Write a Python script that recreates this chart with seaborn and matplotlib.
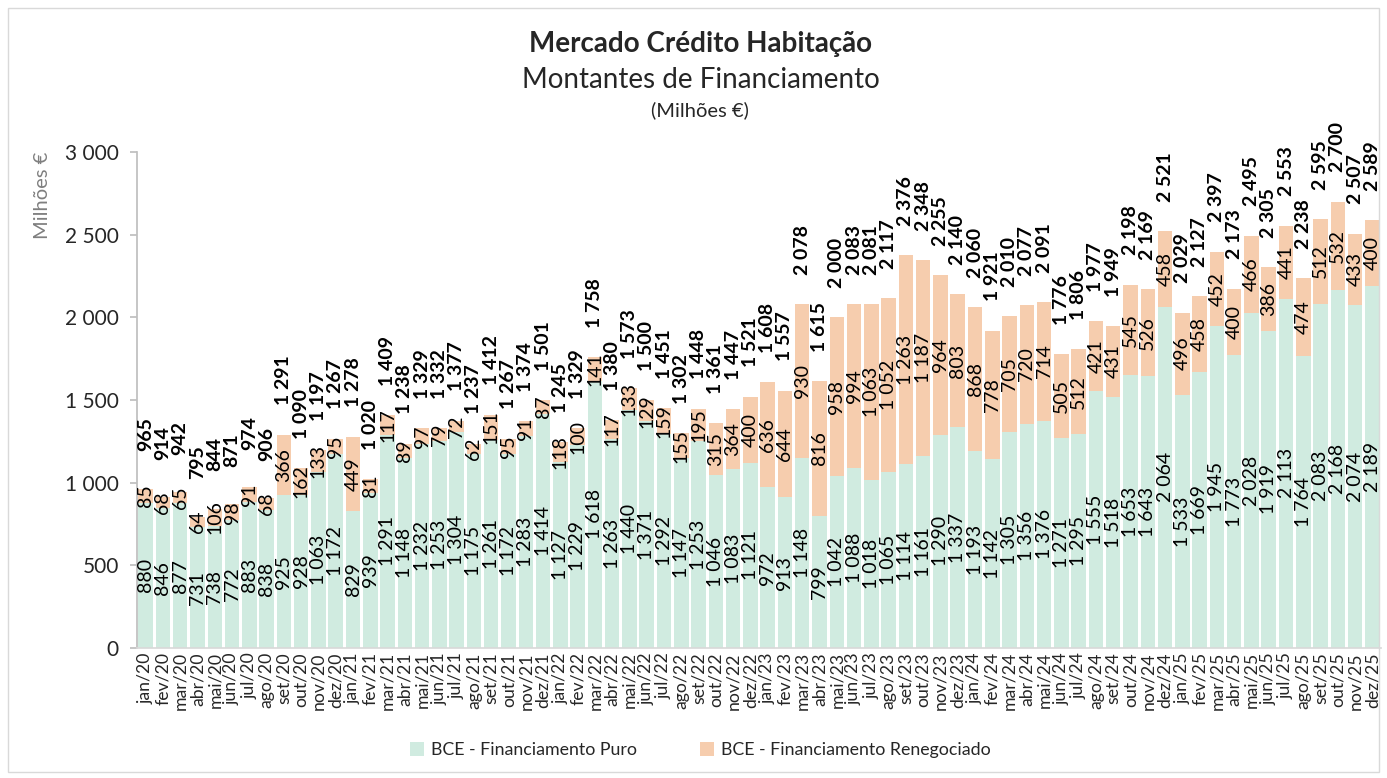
import numpy as np
import pandas as pd
import matplotlib
matplotlib.use("Agg")
import matplotlib.pyplot as plt
import seaborn as sns
from matplotlib.patches import Patch, Rectangle

meses = ["jan", "fev", "mar", "abr", "mai", "jun", "jul", "ago", "set", "out", "nov", "dez"]
anos = ["20", "21", "22", "23", "24", "25"]
categorias = [f"{m}/{a}" for a in anos for m in meses]

puro = [880, 846, 877, 731, 738, 772, 883, 838, 925, 928, 1063, 1172,
        829, 939, 1291, 1148, 1232, 1253, 1304, 1175, 1261, 1172, 1283, 1414,
        1127, 1229, 1618, 1263, 1440, 1371, 1292, 1147, 1253, 1046, 1083, 1121,
        972, 913, 1148, 799, 1042, 1088, 1018, 1065, 1114, 1161, 1290, 1337,
        1193, 1142, 1305, 1356, 1376, 1271, 1295, 1555, 1518, 1653, 1643, 2064,
        1533, 1669, 1945, 1773, 2028, 1919, 2113, 1764, 2083, 2168, 2074, 2189]

renegociado = [85, 68, 65, 64, 106, 98, 91, 68, 366, 162, 133, 95,
               449, 81, 117, 89, 97, 79, 72, 62, 151, 95, 91, 87,
               118, 100, 141, 117, 133, 129, 159, 155, 195, 315, 364, 400,
               636, 644, 930, 816, 958, 994, 1063, 1052, 1263, 1187, 964, 803,
               868, 778, 705, 720, 714, 505, 512, 421, 431, 545, 526, 458,
               496, 458, 452, 400, 466, 386, 441, 474, 512, 532, 433, 400]

totais = [965, 914, 942, 795, 844, 871, 974, 906, 1291, 1090, 1197, 1267,
          1278, 1020, 1409, 1238, 1329, 1332, 1377, 1237, 1412, 1267, 1374, 1501,
          1245, 1329, 1758, 1380, 1573, 1500, 1451, 1302, 1448, 1361, 1447, 1521,
          1608, 1557, 2078, 1615, 2000, 2083, 2081, 2117, 2376, 2348, 2255, 2140,
          2060, 1921, 2010, 2077, 2091, 1776, 1806, 1977, 1949, 2198, 2169, 2521,
          2029, 2127, 2397, 2173, 2495, 2305, 2553, 2238, 2595, 2700, 2507, 2589]

cor_puro = "#D0EBE0"
cor_reneg = "#F6CDAE"

df = pd.DataFrame({"mes": categorias, "puro": puro, "reneg": renegociado, "total": totais})
df["stack"] = df["puro"] + df["reneg"]

sns.set_theme(style="white")
plt.rcParams["font.family"] = ["Lato", "DejaVu Sans"]

fig = plt.figure(figsize=(13.87, 7.78), dpi=100)
ax = fig.add_axes([0.0988, 0.167, 0.8969, 0.6376])

sns.barplot(data=df, x="mes", y="stack", color=cor_reneg, width=0.84,
            saturation=1, ax=ax, order=categorias, edgecolor="none")
sns.barplot(data=df, x="mes", y="puro", color=cor_puro, width=0.84,
            saturation=1, ax=ax, order=categorias, edgecolor="none")

def fmt(v):
    return f"{v:,}".replace(",", " ")

for i, (p, r, t) in enumerate(zip(puro, renegociado, totais)):
    ax.text(i, p / 2, fmt(p), rotation=90, ha="center", va="center",
            fontsize=14, color="black")
    ax.text(i, p + r / 2, fmt(r), rotation=90, ha="center", va="center",
            fontsize=14, color="black")
    ax.annotate(fmt(t), xy=(i, p + r), xytext=(0, 39), textcoords="offset points",
                rotation=90, ha="center", va="center", fontsize=14,
                fontweight="bold", color="black", annotation_clip=False)

ax.set_ylim(0, 3000)
ax.set_xlim(-0.5, len(categorias) - 0.5)
ax.set_yticks([0, 500, 1000, 1500, 2000, 2500, 3000])
ax.set_yticklabels([fmt(v) for v in [0, 500, 1000, 1500, 2000, 2500, 3000]],
                   fontsize=15)
ax.set_xticks(range(len(categorias)))
ax.set_xticklabels(categorias, rotation=90, fontsize=12.7)
ax.set_xlabel("")
ax.set_ylabel("Milhões €", loc="top", color="#7F7F7F", fontsize=14.5, labelpad=10)

for s in ["top", "right"]:
    ax.spines[s].set_visible(False)
ax.spines["left"].set_color("#BFBFBF")
ax.spines["bottom"].set_color("#D9D9D9")
ax.tick_params(axis="y", which="both", left=True, length=5, color="#BFBFBF", pad=8)
ax.tick_params(axis="x", length=0, pad=3)

fig.text(0.505, 0.944, "Mercado Crédito Habitação", ha="center", va="center",
         fontsize=20, fontweight="bold")
fig.text(0.505, 0.897, "Montantes de Financiamento", ha="center", va="center",
         fontsize=20)
fig.text(0.505, 0.858, "(Milhões €)", ha="center", va="center", fontsize=14.5)

handles = [Patch(facecolor=cor_puro, edgecolor="none", label="BCE - Financiamento Puro"),
           Patch(facecolor=cor_reneg, edgecolor="none", label="BCE - Financiamento Renegociado")]
fig.legend(handles=handles, loc="center", bbox_to_anchor=(0.505, 0.036), ncol=2,
           frameon=False, fontsize=12.8, handlelength=0.8, handleheight=0.8,
           handletextpad=0.4, columnspacing=3.5)

fig.patches.append(Rectangle((0.006, 0.008), 0.988, 0.982, transform=fig.transFigure,
                             fill=False, edgecolor="#D9D9D9", linewidth=1))

fig.savefig("out.png", dpi=100)
